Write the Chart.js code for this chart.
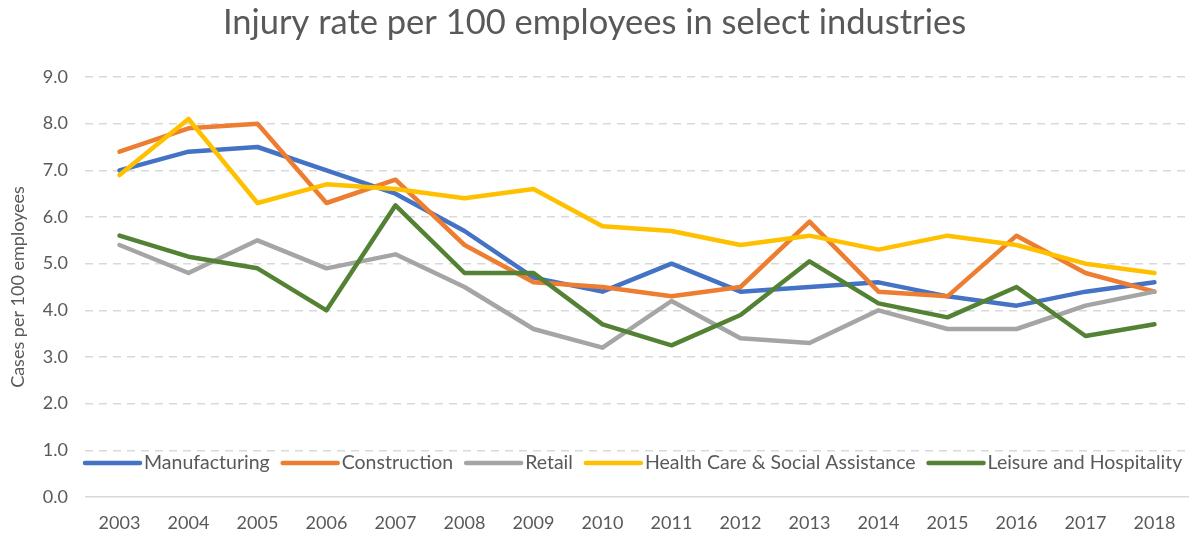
<!DOCTYPE html>
<html>
<head>
<meta charset="utf-8">
<script src="https://cdn.jsdelivr.net/npm/chart.js@4.4.1/dist/chart.umd.min.js"></script>
<style>
  html, body { margin: 0; padding: 0; background: #fff; }
  #wrap { width: 1192px; height: 537px; }
</style>
</head>
<body>
<div id="wrap"><canvas id="injuryChart" width="1192" height="537"></canvas></div>
<script>
    // 数据
    const years = ['2003', '2004', '2005', '2006', '2007', '2008', '2009', '2010',
                   '2011', '2012', '2013', '2014', '2015', '2016', '2017', '2018'];
    const manufacturing = [7.0, 7.4, 7.5, 7.0, 6.5, 5.7, 4.7, 4.4, 5.0, 4.4, 4.5, 4.6, 4.3, 4.1, 4.4, 4.6];
    const construction  = [7.4, 7.9, 8.0, 6.3, 6.8, 5.4, 4.6, 4.5, 4.3, 4.5, 5.9, 4.4, 4.3, 5.6, 4.8, 4.4];
    const retail        = [5.4, 4.8, 5.5, 4.9, 5.2, 4.5, 3.6, 3.2, 4.2, 3.4, 3.3, 4.0, 3.6, 3.6, 4.1, 4.4];
    const healthCare    = [6.9, 8.1, 6.3, 6.7, 6.6, 6.4, 6.6, 5.8, 5.7, 5.4, 5.6, 5.3, 5.6, 5.4, 5.0, 4.8];
    const leisure       = [5.6, 5.15, 4.9, 4.0, 6.25, 4.8, 4.8, 3.7, 3.25, 3.9, 5.05, 4.15, 3.85, 4.5, 3.45, 3.7];
    const seriesNames = ['Manufacturing', 'Construction', 'Retail', 'Health Care & Social Assistance', 'Leisure and Hospitality'];
    const yTicks = [0, 1, 2, 3, 4, 5, 6, 7, 8, 9];

    const colors = ['#4472C4', '#ED7D31', '#A5A5A5', '#FFC000', '#548235'];
    const textColor = '#595959';
    const fontFamily = 'Lato, "Open Sans", sans-serif';

    // 图例（画在绘图区内部底部）
    const insideLegend = {
        id: 'insideLegend',
        afterDraw(chart) {
            const ctx = chart.ctx;
            const area = chart.chartArea;
            const y = area.bottom - 34;
            let x = area.left - 2;
            ctx.save();
            ctx.font = '19.5px ' + fontFamily;
            ctx.textBaseline = 'middle';
            chart.data.datasets.forEach(ds => {
                ctx.strokeStyle = ds.borderColor;
                ctx.lineWidth = 4.5;
                ctx.lineCap = 'round';
                ctx.beginPath();
                ctx.moveTo(x + 2, y);
                ctx.lineTo(x + 57, y);
                ctx.stroke();
                x += 61;
                ctx.fillStyle = textColor;
                ctx.fillText(ds.label, x, y);
                x += ctx.measureText(ds.label).width + 11;
            });
            ctx.restore();
        }
    };

    const seriesData = [manufacturing, construction, retail, healthCare, leisure];

    new Chart(document.getElementById('injuryChart'), {
        type: 'line',
        data: {
            labels: years,
            datasets: seriesData.map((vals, i) => ({
                label: seriesNames[i],
                data: vals,
                borderColor: colors[i],
                backgroundColor: colors[i],
                borderWidth: 4.5,
                borderJoinStyle: 'round',
                borderCapStyle: 'round',
                pointRadius: 0,
                tension: 0,
                order: seriesData.length - i
            }))
        },
        options: {
            responsive: false,
            animation: false,
            layout: { padding: { top: 2, right: 3, left: 0, bottom: 0 } },
            plugins: {
                legend: { display: false },
                tooltip: { enabled: false },
                title: {
                    display: true,
                    text: 'Injury rate per 100 employees in select industries',
                    color: textColor,
                    font: { family: fontFamily, size: 34.5, weight: 'normal', lineHeight: 1.2 },
                    padding: { top: 0, bottom: 33.6 }
                }
            },
            scales: {
                x: {
                    offset: true,
                    grid: { display: false, offset: true, drawTicks: false },
                    border: { display: false },
                    ticks: {
                        color: textColor,
                        font: { family: fontFamily, size: 18 },
                        padding: 15,
                        maxRotation: 0
                    },
                    afterFit(scale) { scale.height = 40; }
                },
                y: {
                    min: yTicks[0],
                    max: yTicks[yTicks.length - 1],
                    afterBuildTicks(scale) {
                        scale.ticks = yTicks.map(v => ({ value: v }));
                    },
                    grid: {
                        color: '#D9D9D9',
                        lineWidth: 1.5,
                        drawTicks: false
                    },
                    border: {
                        display: false,
                        dash: ctx => (ctx.tick && ctx.tick.value === 0) ? [] : [8, 6]
                    },
                    ticks: {
                        color: textColor,
                        font: { family: fontFamily, size: 18 },
                        padding: 17,
                        callback: v => Number(v).toFixed(1)
                    },
                    title: {
                        display: true,
                        text: 'Cases per 100 employees',
                        color: textColor,
                        font: { family: fontFamily, size: 18 },
                        padding: { top: 7, bottom: 0 }
                    },
                    afterFit(scale) { scale.width = 85; }
                }
            }
        },
        plugins: [insideLegend]
    });
</script>
</body>
</html>
